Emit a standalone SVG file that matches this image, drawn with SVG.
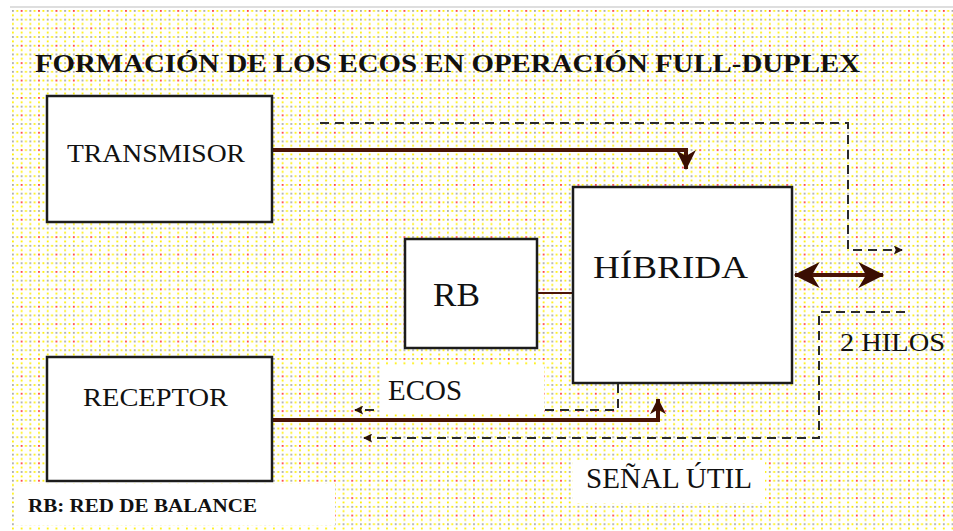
<svg xmlns="http://www.w3.org/2000/svg" width="953" height="531" viewBox="0 0 953 531">
<defs>
<pattern id="dots" patternUnits="userSpaceOnUse" x="12" y="10" width="17.4" height="17.4">
<rect x="0" y="0" width="1.8" height="1.8" fill="#a8a8a8"/>
<rect x="8.7" y="0" width="1.8" height="1.8" fill="#ff4040"/>
<rect x="0" y="8.7" width="1.8" height="1.8" fill="#a8a8a8"/>
<rect x="8.7" y="8.7" width="1.8" height="1.8" fill="#a8a8a8"/>
<rect x="4.35" y="0" width="1.8" height="1.8" fill="#fff000"/>
<rect x="13.05" y="0" width="1.8" height="1.8" fill="#fff000"/>
<rect x="4.35" y="8.7" width="1.8" height="1.8" fill="#fff000"/>
<rect x="13.05" y="8.7" width="1.8" height="1.8" fill="#fff000"/>
<rect x="0" y="4.35" width="1.8" height="1.8" fill="#fff000"/>
<rect x="8.7" y="4.35" width="1.8" height="1.8" fill="#fff000"/>
<rect x="0" y="13.05" width="1.8" height="1.8" fill="#fff000"/>
<rect x="8.7" y="13.05" width="1.8" height="1.8" fill="#fff000"/>
</pattern>
<marker id="headM" markerUnits="userSpaceOnUse" viewBox="0 0 20 20" refX="19" refY="10" markerWidth="20" markerHeight="20" orient="auto">
<path d="M0,0 L20,10 L0,20 L6,10 z" fill="#3a0e02"/>
</marker>
<marker id="headS" markerUnits="userSpaceOnUse" viewBox="0 0 20 20" refX="19" refY="10" markerWidth="16" markerHeight="17" orient="auto">
<path d="M0,0 L20,10 L0,20 L6,10 z" fill="#3a0e02"/>
</marker>
<marker id="headL" markerUnits="userSpaceOnUse" viewBox="0 0 20 20" refX="19" refY="10" markerWidth="27" markerHeight="26" orient="auto-start-reverse">
<path d="M0,0 L20,10 L0,20 L6,10 z" fill="#3a0e02"/>
</marker>
<marker id="headT" markerUnits="userSpaceOnUse" viewBox="0 0 10 10" refX="9" refY="5" markerWidth="10" markerHeight="9" orient="auto">
<path d="M0,0 L10,5 L0,10 L2,5 z" fill="#2a1208"/>
</marker>
</defs>
<style>
text{font-family:"Liberation Serif","Times New Roman",serif;fill:#111}
.box{fill:#fff;stroke:#1c1c1c;stroke-width:2.5}
.thick{fill:none;stroke:#4a1406;stroke-width:4}
.thin{fill:none;stroke:#4a1406;stroke-width:2.2}
.dash{fill:none;stroke:#2a2a2a;stroke-width:2;stroke-dasharray:9 6}
.lbl{fill:#fff}
</style>
<rect x="0" y="0" width="953" height="531" fill="#fff"/>
<rect x="12" y="8" width="941" height="523" fill="url(#dots)"/>
<line x1="10" y1="7" x2="953" y2="7" stroke="#bdbdbd" stroke-width="1.2"/>

<g id="connectors">
<path class="thick" d="M272,150 H686 V169" marker-end="url(#headM)"/>
<path class="thick" d="M272,420 H658 V399" marker-end="url(#headS)"/>
<path class="thin" d="M537,293 H573"/>
<path class="thick" d="M795,275 H883" stroke-width="5" marker-start="url(#headL)" marker-end="url(#headL)"/>
<path class="dash" d="M320,123 H848 V250 H902" marker-end="url(#headT)"/>
<path class="dash" d="M618,384 V410 H355" marker-end="url(#headT)"/>
<path class="dash" d="M905,312 H819 V438 H364" marker-end="url(#headT)"/>
</g>

<rect class="lbl" x="380" y="365" width="164" height="49"/>
<rect class="lbl" x="573" y="460" width="192" height="43"/>
<rect class="lbl" x="15" y="484" width="320" height="41"/>

<text x="35" y="72" font-size="26" font-weight="bold" textLength="825" lengthAdjust="spacingAndGlyphs">FORMACIÓN DE LOS ECOS EN OPERACIÓN FULL-DUPLEX</text>

<g id="transmisor">
<rect class="box" x="47" y="96" width="225" height="126"/>
<text x="67" y="162" font-size="26" textLength="178" lengthAdjust="spacingAndGlyphs">TRANSMISOR</text>
</g>
<g id="receptor">
<rect class="box" x="47" y="357" width="225" height="124"/>
<text x="83" y="406" font-size="25" textLength="145" lengthAdjust="spacingAndGlyphs">RECEPTOR</text>
</g>
<g id="rb">
<rect class="box" x="405" y="239" width="132" height="109"/>
<text x="433" y="306" font-size="33" textLength="47" lengthAdjust="spacingAndGlyphs">RB</text>
</g>
<g id="hibrida">
<rect class="box" x="573" y="187" width="219" height="196"/>
<text x="593" y="278" font-size="32" textLength="155" lengthAdjust="spacingAndGlyphs">HÍBRIDA</text>
</g>

<text x="388" y="400" font-size="29" textLength="74" lengthAdjust="spacingAndGlyphs">ECOS</text>
<text x="586" y="488" font-size="29" textLength="166" lengthAdjust="spacingAndGlyphs">SEÑAL ÚTIL</text>
<text x="840" y="351" font-size="25" textLength="105" lengthAdjust="spacingAndGlyphs">2 HILOS</text>
<text x="28" y="512" font-size="19" font-weight="bold" textLength="229" lengthAdjust="spacingAndGlyphs">RB: RED DE BALANCE</text>
</svg>
